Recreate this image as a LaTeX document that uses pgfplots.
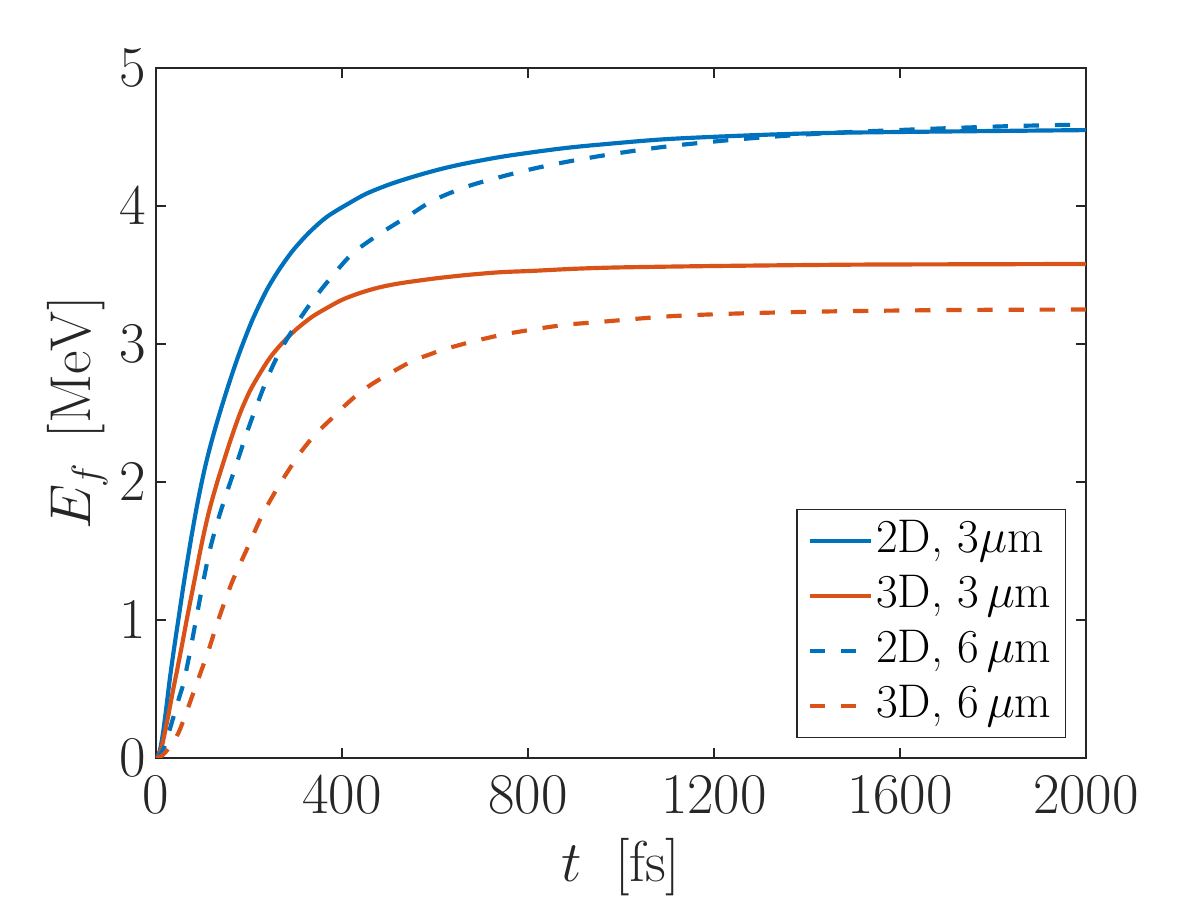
\documentclass[border=0pt]{standalone}
\usepackage{pgfplots}
\pgfplotsset{compat=1.18}
\definecolor{mblue}{rgb}{0,0.447,0.741}
\definecolor{morange}{rgb}{0.85,0.325,0.098}
\definecolor{mgray}{rgb}{0.15,0.15,0.15}
\begin{document}
\begin{tikzpicture}
\begin{axis}[name=ax, scale only axis, width=334.8pt, height=248.4pt,
  xmin=0, xmax=2000, ymin=0, ymax=5,
  xtick={0,400,800,1200,1600,2000}, ytick={0,1,2,3,4,5},
  /pgf/number format/1000 sep={},
  tick align=inside, tick pos=both, xticklabel pos=lower, yticklabel pos=left,
  major tick length=3.6pt,
  axis line style={mgray, line width=0.6pt},
  every tick/.style={mgray, line width=0.6pt},
  ticklabel style={font=\fontsize{19.5}{23}\selectfont, text=mgray},
  xticklabel style={yshift=-3pt},
  label style={font=\fontsize{19.8}{24}\selectfont, text=mgray},
  xlabel={$t\hspace{0.6em}[\mathrm{fs}]$}, ylabel={$E_f\hspace{0.45em}[\mathrm{MeV}]$},
  xlabel style={at={(axis description cs:0.5,-0.158)}, anchor=center},
  ylabel style={at={(axis description cs:-0.0844,0.5)}, anchor=center},
  legend style={at={(axis description cs:0.9785,0.029)}, anchor=south east,
    draw=mgray, line width=0.5pt, font=\fontsize{17}{20}\selectfont, text=black,
    inner xsep=4pt, inner ysep=3.5pt, row sep=4.3pt,
    nodes={inner xsep=1pt, inner ysep=0pt, text height=11.8pt, text depth=3.7pt}},
  legend cell align=left,
  legend image code/.code={\draw[#1] (0pt,0pt) -- (22pt,0pt);},
  every axis plot/.append style={line width=1.5pt, smooth, tension=0.5},
]
\addplot[mblue] coordinates {
(0,0) (8,0.05) (15,0.18) (22,0.36) (30,0.58) (40,0.82) (48,1.00) (60,1.27)
(75,1.58) (90,1.86) (105,2.10) (120,2.30) (138,2.51) (160,2.745) (181,2.95)
(208,3.18) (238,3.39) (265,3.54) (295,3.68) (330,3.81) (367,3.92) (410,4.01)
(453,4.09) (505,4.16) (561,4.22) (615,4.27) (668,4.31) (740,4.355) (811,4.39)
(880,4.42) (955,4.445) (1100,4.485) (1300,4.515) (1456,4.53) (1700,4.54) (2000,4.55)};
\addlegendentry{2D, 3$\mu$m}
\addplot[morange] coordinates {
(0,0) (8,0.03) (15,0.12) (26,0.30) (36,0.48) (45,0.63) (56,0.82) (66,1.00)
(80,1.24) (100,1.58) (115,1.80) (130,1.98) (141,2.10) (160,2.30) (181,2.50)
(202,2.66) (224,2.79) (245,2.90) (267,2.99) (290,3.07) (310,3.13) (337,3.20)
(367,3.26) (400,3.32) (439,3.37) (480,3.41) (525,3.44) (600,3.475) (668,3.50)
(740,3.52) (811,3.53) (900,3.545) (998,3.555) (1200,3.565) (1500,3.575)
(1800,3.578) (2000,3.58)};
\addlegendentry{3D, 3\,$\mu$m}
\addplot[mblue, dash pattern=on 5.5pt off 5.7pt] coordinates {
(0,0) (10,0.03) (20,0.10) (36,0.28) (50,0.44) (59,0.54) (72,0.75) (86,1.00)
(100,1.25) (116,1.51) (133,1.72) (150,1.90) (174,2.14) (202,2.42) (238,2.74)
(267,2.95) (303,3.15) (338,3.32) (381,3.50) (424,3.66) (482,3.80) (539,3.92)
(596,4.04) (668,4.14) (740,4.21) (811,4.27) (883,4.32) (969,4.37) (1050,4.41)
(1134,4.445) (1277,4.49) (1456,4.53) (1671,4.56) (1850,4.58) (2000,4.59)};
\addlegendentry{2D, 6\,$\mu$m}
\addplot[morange, dash pattern=on 5.5pt off 5.7pt] coordinates {
(0,0) (10,0.01) (20,0.04) (33,0.10) (48,0.18) (62,0.30) (77,0.44) (95,0.61)
(113,0.78) (134,1.00) (163,1.27) (195,1.51) (227,1.75) (260,1.95) (288,2.10)
(310,2.21) (331,2.30) (356,2.39) (381,2.47) (405,2.55) (432,2.63) (460,2.70)
(489,2.76) (520,2.82) (553,2.88) (585,2.92) (618,2.96) (650,2.99) (682,3.02)
(715,3.045) (747,3.07) (783,3.09) (819,3.11) (883,3.14) (955,3.16) (1100,3.20)
(1241,3.22) (1400,3.233) (1529,3.24) (1750,3.247) (2000,3.25)};
\addlegendentry{3D, 6\,$\mu$m}
\end{axis}
\pgfresetboundingbox
\path ([shift={(-56.16pt,-51.12pt)}]ax.south west) rectangle ++(432pt,324pt);
\end{tikzpicture}
\end{document}
